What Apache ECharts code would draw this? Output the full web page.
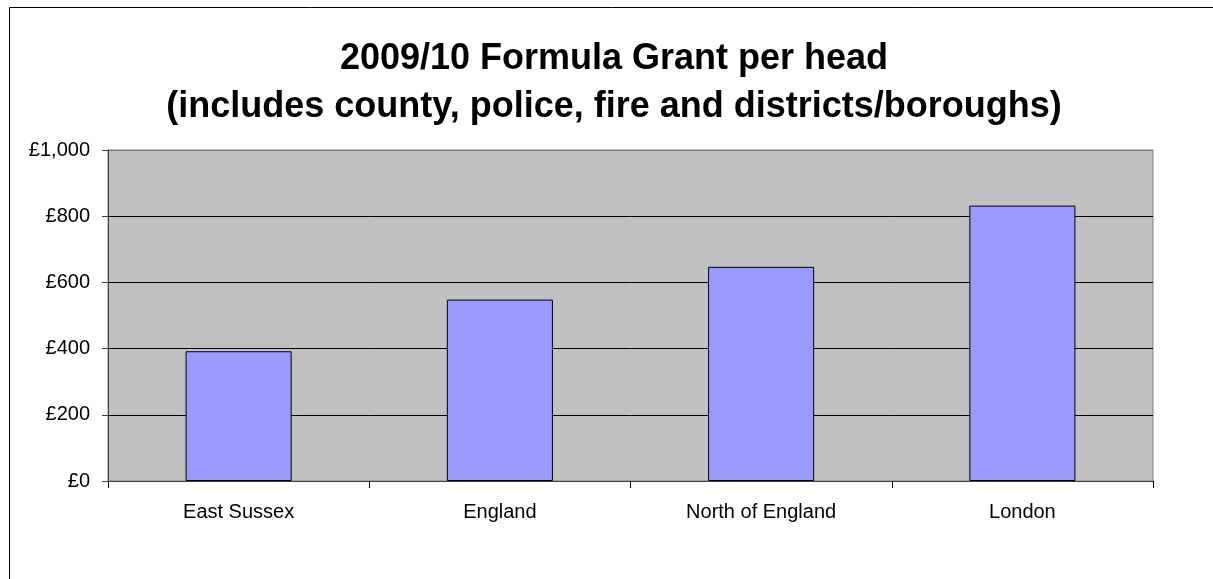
<!DOCTYPE html>
<html>
<head>
<meta charset="utf-8">
<script src="https://cdn.jsdelivr.net/npm/echarts@6/dist/echarts.min.js"></script>
<style>
html,body{margin:0;padding:0;background:#fff;}
#chart{width:1213px;height:579px;}
</style>
</head>
<body>
<div id="chart"></div>
<script>
const titleLines = ['2009/10 Formula Grant per head', '(includes county, police, fire and districts/boroughs)'];
const categories = ['East Sussex', 'England', 'North of England', 'London'];
const grantPerHead = [392, 548, 647, 832];
const yMin = 0, yMax = 1000, yStep = 200;

const chart = echarts.init(document.getElementById('chart'), null, {renderer: 'canvas'});
chart.setOption({
  animation: false,
  backgroundColor: '#ffffff',
  graphic: [{
    type: 'rect', silent: true, z: -10,
    shape: {x: 9.5, y: 7.5, width: 1300, height: 700},
    style: {fill: 'none', stroke: '#000000', lineWidth: 1}
  }],
  title: {
    text: titleLines.join('\n'),
    left: 614, top: 35, padding: 0,
    textAlign: 'center',
    textStyle: {fontFamily: 'Liberation Sans, Arial, sans-serif', fontSize: 36, fontWeight: 'bold', color: '#000', lineHeight: 48}
  },
  grid: {
    left: 108, right: 60, top: 150, bottom: 98,
    show: true, backgroundColor: '#c0c0c0', borderColor: '#808080', borderWidth: 1,
    containLabel: false
  },
  xAxis: {
    type: 'category', data: categories,
    axisLine: {show: true, lineStyle: {color: '#404040', width: 1}},
    axisTick: {show: true, alignWithLabel: false, length: 7, lineStyle: {color: '#000'}},
    axisLabel: {margin: 21, color: '#000', fontSize: 20, fontFamily: 'Liberation Sans, Arial, sans-serif'},
    splitLine: {show: false}
  },
  yAxis: {
    type: 'value', min: yMin, max: yMax, interval: yStep,
    axisLine: {show: true, lineStyle: {color: '#404040', width: 1}},
    axisTick: {show: true, length: 6, lineStyle: {color: '#404040'}},
    axisLabel: {margin: 18, color: '#000', fontSize: 20, fontFamily: 'Liberation Sans, Arial, sans-serif',
      formatter: v => '£' + v.toLocaleString('en-GB')},
    splitLine: {show: true, lineStyle: {color: ['#404040', '#000', '#000', '#000', '#000', '#808080'], width: 1}}
  },
  series: [{
    type: 'bar', data: grantPerHead, barWidth: '40.6%',
    itemStyle: {color: '#9999ff', borderColor: '#000', borderWidth: 1}
  }]
});
</script>
</body>
</html>
